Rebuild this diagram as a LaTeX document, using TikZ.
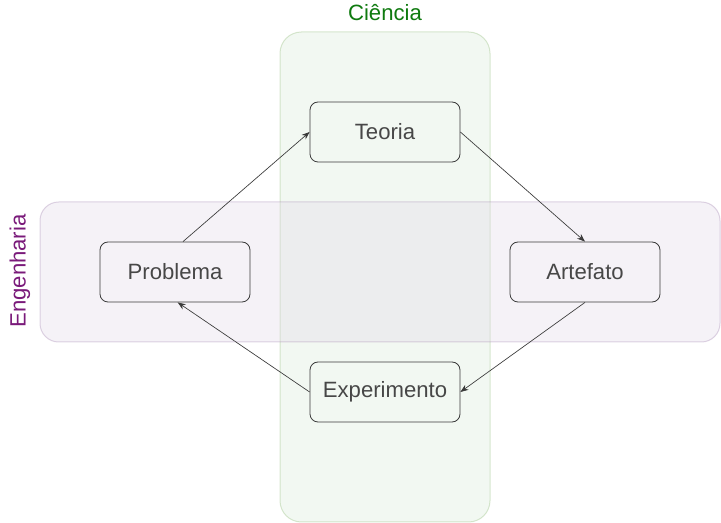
\documentclass[tikz,border=0pt]{standalone}
\usepackage{fontspec}
\setmainfont{Liberation Sans}
\usetikzlibrary{arrows.meta, positioning}
\definecolor{cigreen}{HTML}{D5E8D4}
\definecolor{cigreenline}{HTML}{82B366}
\definecolor{enpurple}{HTML}{E1D5E7}
\definecolor{enpurpleline}{HTML}{9673A6}
\definecolor{cigreentext}{HTML}{0F7A0F}
\definecolor{enpurpletext}{HTML}{7A1A7A}
\definecolor{boxline}{HTML}{3A3A3A}
\definecolor{boxtext}{HTML}{474747}

\begin{document}
\begin{tikzpicture}[
    x=0.75pt, y=-0.75pt,
    band/.style={rectangle, rounded corners=#1, draw, line width=0.75pt, opacity=0.3, inner sep=0pt},
    stage/.style={rectangle, rounded corners=6pt, draw=boxline, line width=0.6pt, minimum width=112.5pt, minimum height=45pt, inner sep=0pt, font=\fontsize{16.6}{20}\selectfont, text=boxtext},
    arrow/.style={-{Stealth[length=6pt, width=4.5pt]}, line width=0.5pt, color=boxline}
]
\useasboundingbox[fill=white] (0,0) rectangle (721,523);

% Areas
\node[band=16pt, fill=cigreen, draw=cigreenline, minimum width=157.5pt, minimum height=367.5pt] (ciencia) at (385,277) {};
\node[band=14pt, fill=enpurple, draw=enpurpleline, minimum width=510pt, minimum height=105pt] (engenharia) at (380,272) {};

\node[font=\fontsize{16.6}{20}\selectfont, text=cigreentext] (cienciatext) at (385,13) {Ciência};
\node[font=\fontsize{16.6}{20}\selectfont, text=enpurpletext, rotate=90] (engenhariatext) at (20,271) {Engenharia};

% Cycle
\node[stage] (teoria) at (385,132) {Teoria};
\node[stage] (problema) at (175,272) {Problema};
\node[stage] (artefato) at (585,272) {Artefato};
\node[stage] (experimento) at (385,392) {Experimento};

\draw[arrow] ([xshift=6pt]problema.north) -- (teoria.west);
\draw[arrow] (teoria.east) -- (artefato.north);
\draw[arrow] (artefato.south) -- (experimento.east);
\draw[arrow] (experimento.west) -- ([xshift=2pt]problema.south);

\end{tikzpicture}
\end{document}
